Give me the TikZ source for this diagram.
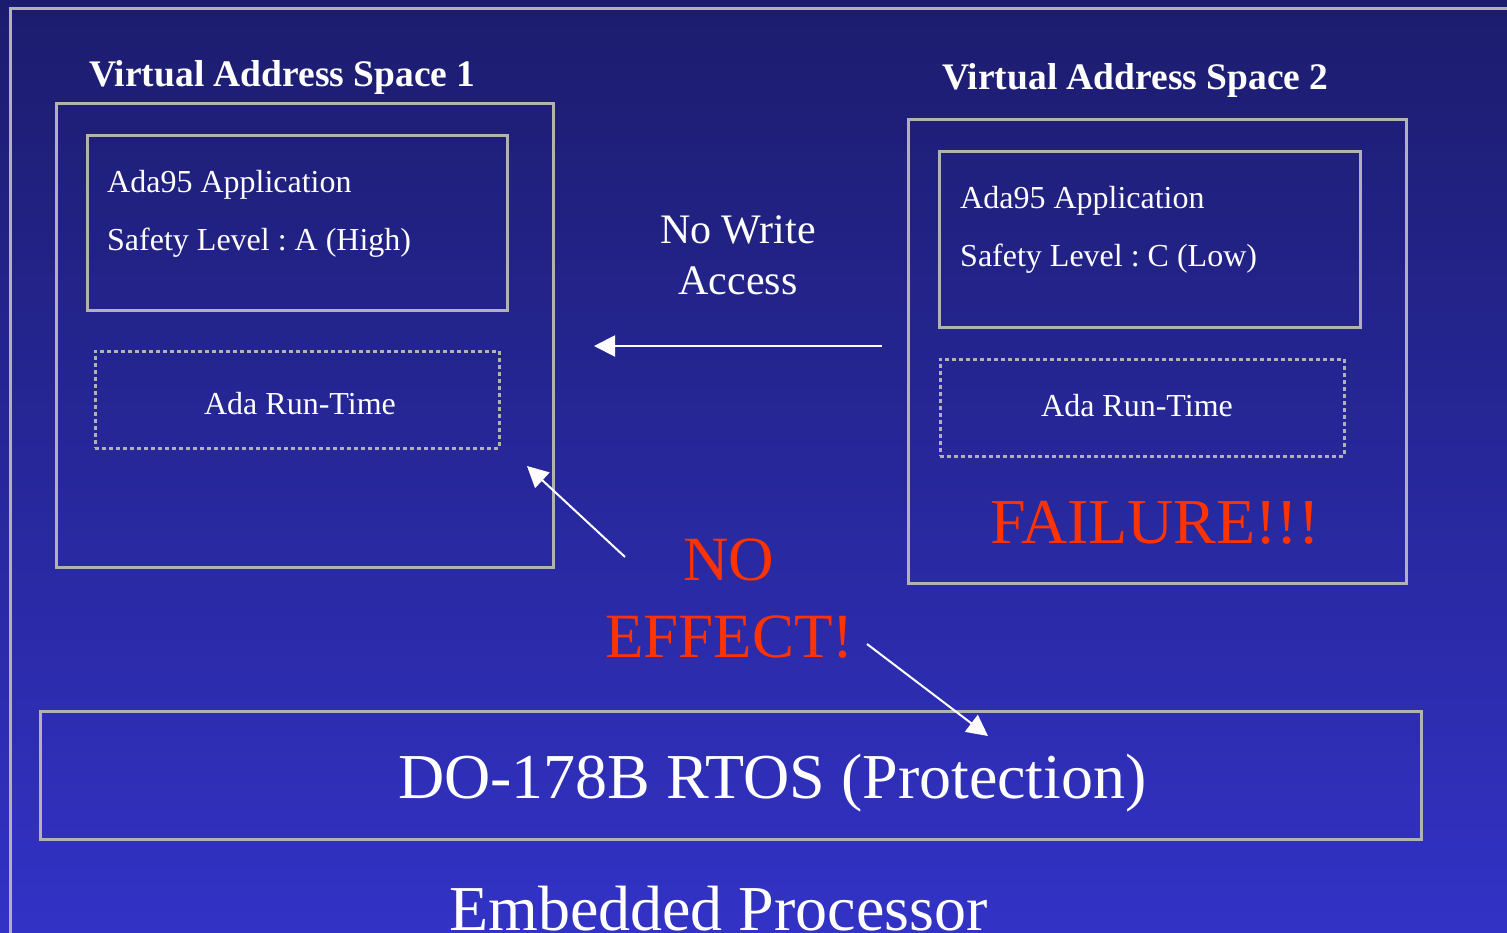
\documentclass[tikz,border=0pt]{standalone}
\usepackage{fontspec}
\setmainfont{Liberation Serif}
\usetikzlibrary{arrows.meta}
\frenchspacing
\definecolor{bgtop}{RGB}{28,28,110}
\definecolor{bgbot}{RGB}{50,50,198}
\definecolor{frame}{RGB}{178,178,178}
\definecolor{alarm}{RGB}{255,51,0}
\tikzset{
  box/.style={draw=frame, line width=3pt, rectangle, inner sep=0pt},
  dotbox/.style={draw=frame, line width=3pt, rectangle, inner sep=0pt, dash pattern=on 4pt off 3pt},
  txt/.style={text=white, inner sep=0pt},
  redtxt/.style={text=alarm, inner sep=0pt},
  arr/.style={draw=white, line width=2pt, -{Triangle[length=21pt,width=21pt]}},
}
\newcommand{\fs}[1]{\fontsize{#1}{#1}\selectfont}
\begin{document}
\begin{tikzpicture}[x=1pt,y=-1pt]
\useasboundingbox (0,0) rectangle (1507,932);
\clip (0,0) rectangle (1507,932);
\shade[top color=bgtop, bottom color=bgbot] (0,0) rectangle (1507,932);
% outer frame
\draw[frame, line width=3pt] (10,950) -- (10,8) -- (1520,8);

% Virtual address space 1
\node[txt, anchor=base west, font=\fs{37.5}\bfseries] (t1) at (89,86) {Virtual Address Space 1};
\node[box, minimum width=497pt, minimum height=464pt] (vas1) at (304.5,335) {};
\node[box, minimum width=420pt, minimum height=175pt] (app1) at (297,222.5) {};
\node[txt, anchor=base west, font=\fs{32}] (app1a) at (107,192) {Ada95 Application};
\node[txt, anchor=base west, font=\fs{32}] (app1b) at (107,250) {Safety Level : A (High)};
\node[dotbox, minimum width=404pt, minimum height=97pt] (rt1) at (297,399.5) {};
\node[txt, anchor=base, font=\fs{32}] (rt1t) at (300,414) {Ada Run-Time};

% Virtual address space 2
\node[txt, anchor=base west, font=\fs{37.5}\bfseries] (t2) at (942,89) {Virtual Address Space 2};
\node[box, minimum width=498pt, minimum height=464pt] (vas2) at (1157,351) {};
\node[box, minimum width=421pt, minimum height=176pt] (app2) at (1149.5,239) {};
\node[txt, anchor=base west, font=\fs{32}] (app2a) at (960,208) {Ada95 Application};
\node[txt, anchor=base west, font=\fs{32}] (app2b) at (960,266) {Safety Level : C (Low)};
\node[dotbox, minimum width=404pt, minimum height=97pt] (rt2) at (1142,407.5) {};
\node[txt, anchor=base, font=\fs{32}] (rt2t) at (1137,416) {Ada Run-Time};
\node[redtxt, anchor=base west, font=\fs{64}] (fail) at (990,543) {FAILURE!!!};

% middle labels
\node[txt, anchor=base, font=\fs{42}] (nw1) at (738,243) {No Write};
\node[txt, anchor=base, font=\fs{42}] (nw2) at (738,294) {Access};
\node[redtxt, anchor=base, font=\fs{63}] (no) at (729,580) {NO};
\node[redtxt, anchor=base west, font=\fs{63}] (eff) at (605,657) {EFFECT!};

% RTOS
\node[box, minimum width=1381pt, minimum height=128pt] (rtos) at (730.5,775) {};
\node[txt, anchor=base west, font=\fs{64}] (rtost) at (398,798) {DO-178B RTOS (Protection)};
\node[txt, anchor=base west, font=\fs{64}] (emb) at (449,930) {Embedded Processor};

% connectors
\coordinate (h1) at (882,346);
\coordinate (h2) at (594,346);
\coordinate (d1s) at (625,557);
\coordinate (d1e) at (527,466);
\coordinate (d2s) at (867,644);
\coordinate (d2e) at (988,736);
\draw[arr] (h1) -- (h2);
\draw[arr] (d1s) -- (d1e);
\draw[arr] (d2s) -- (d2e);
\end{tikzpicture}
\end{document}
